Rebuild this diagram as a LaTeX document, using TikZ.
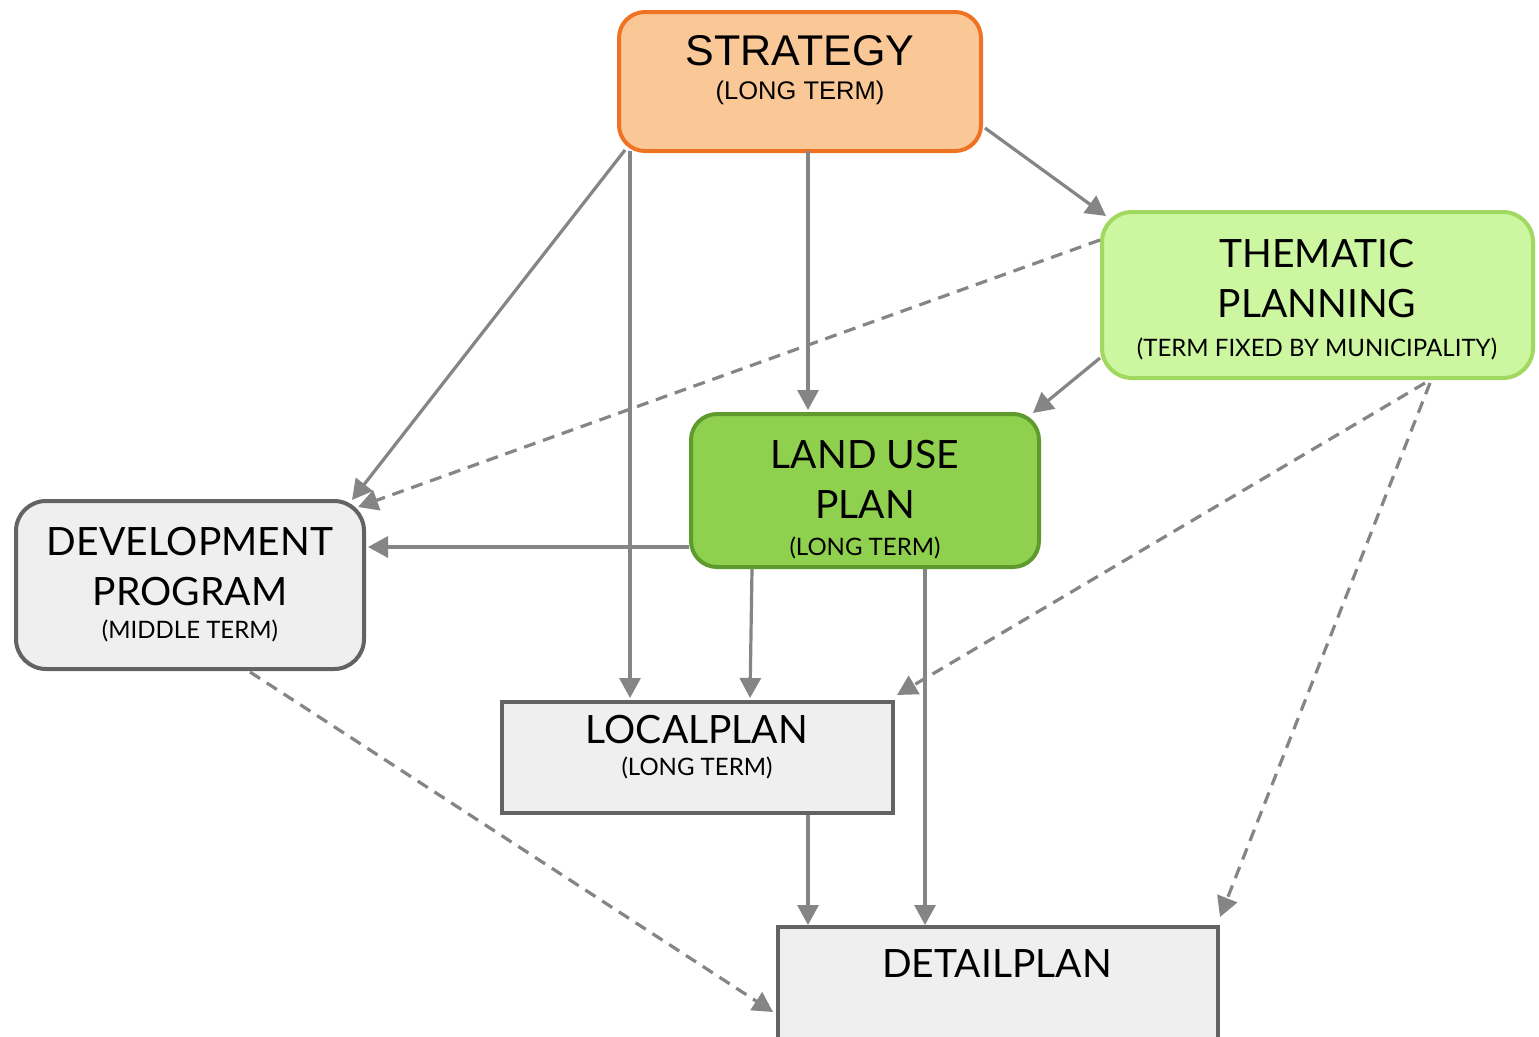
\documentclass[tikz,border=0pt]{standalone}
\usepackage{fontspec}
\setmainfont{Lato}
\newfontfamily\arialfont{Liberation Sans}
\usetikzlibrary{arrows.meta,calc}
\definecolor{arrgray}{HTML}{858585}
\definecolor{stratfill}{HTML}{FAC896}
\definecolor{stratdraw}{HTML}{EE7322}
\definecolor{themfill}{HTML}{CDF6A0}
\definecolor{themdraw}{HTML}{A0D860}
\definecolor{landfill}{HTML}{8FD14F}
\definecolor{landdraw}{HTML}{5E9A2E}
\definecolor{greyfill}{HTML}{EFEFEF}
\definecolor{greydraw}{HTML}{636363}
\tikzset{
  box/.style={draw, line width=4pt, inner sep=0pt, outer sep=0pt},
  roundbox/.style={box, rounded corners=26pt},
  title/.style={anchor=base, inner sep=0pt, font=\fontsize{39}{39}\selectfont},
  sub/.style={anchor=base, inner sep=0pt, font=\fontsize{24}{24}\selectfont},
  arr/.style={draw=arrgray, line width=3.2pt, -{Triangle[length=20pt,width=21pt]}},
  darr/.style={arr, dash pattern=on 12pt off 8pt},
}
\begin{document}
\begin{tikzpicture}[x=1pt,y=-1pt]
\useasboundingbox (0,0) rectangle (1539,1036);
\clip (0,0) rectangle (1539,1036);
\fill[white] (0,0) rectangle (1539,1036);
% boxes
\node[roundbox, fill=stratfill, draw=stratdraw, minimum width=362pt, minimum height=139pt] (strat) at (800,81.5) {};
\node[roundbox, fill=themfill, draw=themdraw, minimum width=431pt, minimum height=166pt, rounded corners=30pt] (them) at (1317.5,295) {};
\node[roundbox, fill=landfill, draw=landdraw, minimum width=348pt, minimum height=153pt] (land) at (865,490.5) {};
\node[roundbox, fill=greyfill, draw=greydraw, minimum width=348pt, minimum height=168pt, rounded corners=30pt] (dev) at (190,585) {};
\node[box, fill=greyfill, draw=greydraw, minimum width=391pt, minimum height=111pt] (local) at (697.5,757.5) {};
\node[box, fill=greyfill, draw=greydraw, minimum width=440pt, minimum height=130pt] (detail) at (998,992) {};
% texts
\node[title, font=\arialfont\fontsize{43}{43}\selectfont] (t1) at (800,65) {STRATEGY};
\node[sub, font=\arialfont\fontsize{25.5}{25.5}\selectfont] (t2) at (800,99) {(LONG TERM)};
\node[title] (t3) at (1317,267) {THEMATIC};
\node[title] (t4) at (1317,317) {PLANNING};
\node[sub] (t5) at (1317,356) {(TERM FIXED BY MUNICIPALITY)};
\node[title] (t6) at (865,468) {LAND USE};
\node[title] (t7) at (865,518) {PLAN};
\node[sub] (t8) at (865,555) {(LONG TERM)};
\node[title] (t9) at (190,555) {DEVELOPMENT};
\node[title] (t10) at (190,605) {PROGRAM};
\node[sub] (t11) at (190,638) {(MIDDLE TERM)};
\node[title] (t12) at (697,743) {LOCALPLAN};
\node[sub] (t13) at (697,775) {(LONG TERM)};
\node[title] (t14) at (997,977) {DETAILPLAN};
% connectors
\draw[arr] ($(strat.south west)+(6,-1)$) -- ($(dev.north east)+(-12,-1)$);
\draw[arr] ($(strat.south west)+(11,0)$) -- ($(local.north west)+(128,-4)$);
\draw[arr] ($(strat.south west)+(189,0)$) -- ($(land.north west)+(117,-4)$);
\draw[arr] ($(strat.north east)+(4,116)$) -- ($(them.north west)+(4,4)$);
\draw[darr] ($(them.north west)+(-2,28)$) -- ($(dev.north east)+(-6,6)$);
\draw[arr] ($(them.south west)+(-2,-20)$) -- ($(land.north east)+(-6,-1)$);
\draw[arr] ($(land.south west)+(-2,-20)$) -- ($(dev.north east)+(4,46)$);
\draw[arr] ($(land.south west)+(61,2)$) -- ($(local.north west)+(248,-4)$);
\draw[arr] ($(land.south west)+(234,2)$) -- ($(detail.north west)+(147,-2)$);
\draw[darr] ($(them.south west)+(323,5)$) -- ($(local.north east)+(4,-7)$);
\draw[darr] ($(them.south west)+(328,5)$) -- ($(detail.north east)+(2,-10)$);
\draw[darr] ($(dev.south west)+(234,3)$) -- ($(detail.north west)+(-5,85)$);
\draw[arr] ($(local.south west)+(306,2)$) -- ($(detail.north west)+(30,-2)$);
\end{tikzpicture}
\end{document}
